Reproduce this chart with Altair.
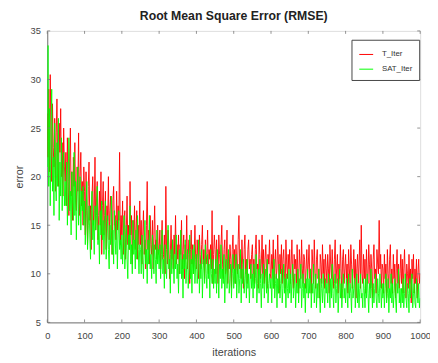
import altair as alt
import pandas as pd

# error values read every 2 iterations (0, 2, 4, ..., 1000)
t_iter = [
    26.5, 22.0, 29.0, 20.5, 30.5, 25.0, 19.5, 27.5, 23.0, 21.0, 26.0, 18.5, 24.5, 28.0, 21.5, 19.0, 25.5, 22.5, 27.0, 20.0, 23.5, 18.0, 25.0, 21.0, 19.5,
    22.5, 17.0, 24.0, 19.5, 16.0, 21.5, 25.0, 18.0, 20.5, 15.5, 22.0, 19.0, 23.5, 17.5, 16.5, 21.0, 18.5, 24.5, 16.0, 20.0, 22.5, 17.0, 19.5, 15.0, 21.0,
    18.5, 14.0, 20.5, 16.5, 13.0, 19.0, 21.5, 15.5, 17.0, 12.5, 18.0, 20.0, 15.0, 16.5, 22.0, 14.5, 17.5, 19.5, 13.5, 16.0, 18.5, 15.0, 20.5, 12.0, 17.0,
    19.5, 14.0, 16.0, 18.5, 12.5, 17.0, 15.5, 20.0, 13.5, 16.5, 18.0, 14.5, 12.0, 17.5, 19.0, 15.0, 16.0, 13.5, 18.5, 14.5, 17.0, 15.5, 22.5, 13.0, 16.0,
    14.0, 17.5, 12.0, 15.5, 16.5, 11.5, 14.5, 18.0, 13.0, 15.0, 12.5, 19.5, 14.0, 16.0, 11.0, 15.5, 13.5, 17.0, 12.5, 14.5, 16.5, 11.5, 15.0, 13.0, 17.5,
    13.0, 15.5, 11.0, 14.0, 16.5, 12.0, 13.5, 10.5, 15.0, 19.5, 12.5, 14.5, 11.0, 16.0, 13.0, 12.0, 15.5, 10.5, 14.0, 17.0, 12.5, 13.5, 11.5, 15.0, 12.0,
    12.5, 14.5, 10.5, 13.0, 15.5, 11.5, 12.0, 14.0, 10.0, 19.0, 12.5, 11.0, 14.5, 13.0, 9.5, 12.0, 15.0, 11.5, 13.5, 10.5, 14.0, 12.0, 16.0, 11.0, 13.0,
    11.5, 14.0, 10.0, 13.0, 12.0, 15.5, 10.5, 12.5, 14.0, 9.5, 13.0, 11.5, 16.0, 10.5, 12.0, 13.5, 9.0, 12.5, 14.5, 11.0, 13.0, 10.0, 12.0, 15.0, 11.5,
    10.5, 13.5, 11.5, 9.5, 14.0, 12.0, 10.5, 13.0, 15.0, 11.0, 12.5, 9.5, 13.5, 11.0, 12.0, 14.5, 10.0, 12.5, 11.5, 13.0, 10.5, 16.5, 9.0, 12.0, 14.0,
    12.5, 10.0, 13.5, 11.0, 9.0, 14.0, 12.0, 10.5, 13.0, 15.0, 11.0, 9.5, 12.5, 13.5, 10.0, 11.5, 14.5, 9.0, 12.0, 10.5, 13.0, 11.5, 8.5, 12.5, 14.0,
    10.5, 12.5, 9.0, 13.0, 11.0, 10.0, 13.5, 16.0, 10.5, 12.0, 9.5, 13.5, 11.0, 8.5, 12.5, 14.0, 10.0, 11.5, 9.0, 12.5, 13.5, 10.5, 11.5, 9.5, 12.0,
    13.0, 10.0, 11.5, 9.0, 12.5, 14.0, 10.5, 11.0, 8.5, 13.5, 12.0, 9.5, 11.0, 14.0, 10.0, 12.5, 9.0, 11.5, 13.0, 10.5, 8.5, 12.0, 11.0, 13.5, 10.0,
    9.5, 12.0, 10.5, 13.5, 8.5, 11.0, 12.5, 9.5, 10.5, 14.0, 11.0, 8.0, 12.0, 10.0, 13.0, 9.0, 11.5, 12.5, 10.0, 8.5, 13.5, 11.0, 9.5, 12.0, 10.5,
    12.5, 9.0, 11.0, 13.5, 10.0, 8.5, 12.0, 10.5, 11.5, 9.0, 13.0, 10.0, 8.0, 12.5, 11.0, 9.5, 13.5, 10.5, 9.0, 12.0, 11.5, 8.5, 10.5, 12.5, 9.5,
    11.0, 13.0, 9.5, 10.5, 8.0, 12.5, 11.0, 9.0, 13.5, 10.0, 8.5, 11.5, 12.5, 9.5, 10.5, 7.5, 12.0, 11.0, 9.0, 13.0, 10.0, 11.5, 8.5, 12.0, 10.5,
    9.0, 12.0, 10.5, 8.0, 13.0, 11.0, 9.5, 12.5, 10.0, 8.5, 11.5, 13.5, 9.0, 10.5, 12.0, 8.0, 11.0, 9.5, 13.0, 10.5, 7.5, 11.5, 12.5, 9.0, 10.5,
    12.0, 9.5, 11.0, 8.0, 12.5, 10.5, 9.0, 13.0, 11.0, 8.5, 10.0, 12.5, 9.5, 11.5, 7.5, 10.5, 12.0, 9.0, 11.0, 13.5, 8.5, 15.0, 10.0, 9.0, 12.0,
    9.5, 11.5, 8.0, 12.5, 10.0, 9.0, 13.0, 11.0, 8.5, 12.0, 10.5, 7.5, 11.5, 13.0, 9.5, 10.5, 8.0, 12.5, 11.0, 10.0, 15.5, 10.5, 12.0, 8.5, 11.0,
    10.5, 8.0, 12.0, 9.5, 11.0, 7.5, 12.5, 10.0, 8.5, 11.5, 13.0, 9.0, 10.5, 8.0, 12.0, 9.5, 11.0, 7.5, 10.5, 12.5, 9.0, 11.0, 8.5, 10.0, 12.0,
    9.0, 11.5, 8.0, 10.5, 12.5, 9.5, 7.5, 11.0, 10.0, 8.5, 12.0, 9.0, 10.5, 7.0, 11.5, 9.5, 12.0, 8.0, 10.5, 9.0, 11.5, 7.5, 10.0, 11.5, 9.0,
    10.0,
]

sat_iter = [
    21.0, 33.5, 19.0, 27.0, 17.0, 24.5, 29.0, 18.5, 22.0, 16.0, 25.5, 20.0, 17.5, 23.5, 19.0, 26.0, 15.5, 21.5, 18.0, 24.0, 16.5, 20.5, 22.5, 17.0, 19.5,
    17.0, 21.5, 15.0, 19.0, 24.0, 16.5, 18.5, 14.0, 20.5, 17.5, 15.5, 22.5, 16.0, 19.5, 13.5, 18.0, 21.0, 15.0, 17.5, 20.0, 14.5, 18.5, 16.5, 19.0, 15.0,
    17.5, 13.0, 16.0, 19.5, 12.5, 15.0, 17.0, 14.0, 11.5, 16.5, 18.5, 13.5, 15.5, 12.0, 17.0, 14.5, 16.0, 19.0, 13.0, 15.0, 11.0, 16.5, 14.0, 17.5, 13.5,
    15.5, 12.0, 14.5, 17.5, 11.5, 13.5, 16.0, 12.5, 10.5, 15.0, 13.0, 18.0, 12.0, 14.5, 11.0, 16.5, 13.5, 12.0, 15.5, 10.5, 14.0, 16.5, 12.5, 13.5, 11.5,
    14.0, 11.0, 13.5, 16.0, 10.5, 12.5, 15.0, 11.5, 9.5, 14.0, 12.5, 17.0, 11.0, 13.0, 10.0, 15.5, 12.0, 13.5, 10.5, 14.5, 11.5, 16.0, 12.5, 10.0, 13.0,
    12.5, 10.0, 14.0, 11.5, 9.5, 13.0, 15.5, 11.0, 12.5, 9.0, 13.5, 11.0, 16.0, 10.5, 12.0, 9.5, 14.0, 12.5, 10.0, 13.0, 11.5, 9.0, 14.5, 11.0, 12.5,
    10.5, 13.0, 9.5, 12.0, 14.5, 10.0, 11.5, 8.5, 13.0, 11.0, 9.5, 12.5, 15.0, 10.5, 11.5, 8.0, 12.5, 10.0, 13.5, 11.0, 9.0, 12.0, 10.5, 14.0, 9.5,
    11.0, 8.0, 12.5, 10.0, 14.5, 9.5, 11.5, 7.5, 12.0, 10.5, 13.5, 9.0, 11.0, 12.5, 8.5, 10.5, 14.0, 9.5, 11.5, 8.0, 12.5, 10.0, 13.0, 9.0, 11.0,
    12.0, 9.0, 10.5, 13.5, 8.0, 11.0, 9.5, 12.5, 7.5, 10.5, 11.5, 9.0, 13.0, 10.0, 8.5, 12.0, 9.5, 11.0, 7.5, 12.5, 10.0, 9.0, 11.5, 8.5, 10.5,
    9.0, 11.5, 8.0, 12.5, 10.0, 7.5, 11.0, 9.5, 13.0, 8.5, 10.5, 9.0, 12.0, 7.0, 10.0, 11.5, 8.5, 10.5, 12.5, 8.0, 9.5, 11.0, 7.5, 10.0, 12.0,
    8.5, 10.5, 9.0, 12.0, 7.5, 10.0, 11.0, 8.0, 9.5, 12.5, 7.0, 10.5, 9.0, 11.5, 8.0, 9.5, 10.5, 7.5, 11.5, 8.5, 10.0, 7.0, 9.5, 11.0, 8.5,
    10.0, 7.5, 11.0, 8.5, 9.5, 12.0, 7.0, 9.0, 10.5, 8.0, 11.5, 9.0, 6.5, 10.0, 8.5, 11.0, 7.5, 9.5, 10.5, 8.0, 11.5, 7.0, 9.0, 10.0, 8.5,
    9.5, 7.0, 10.5, 8.5, 11.5, 7.5, 9.0, 10.0, 6.5, 9.5, 8.0, 11.0, 7.5, 9.0, 10.5, 7.0, 8.5, 11.0, 8.0, 9.5, 6.5, 10.0, 8.5, 7.5, 10.5,
    8.0, 10.0, 7.0, 9.5, 11.0, 7.5, 8.5, 10.0, 6.5, 9.0, 8.0, 10.5, 7.0, 9.5, 8.5, 11.0, 6.5, 8.5, 10.0, 7.5, 9.0, 6.0, 9.5, 8.0, 10.5,
    7.5, 9.5, 8.0, 10.5, 6.5, 9.0, 8.0, 11.0, 7.0, 8.5, 10.0, 6.5, 9.0, 7.5, 10.5, 8.0, 6.0, 9.5, 8.5, 7.0, 10.0, 8.0, 6.5, 9.5, 8.0,
    9.0, 7.0, 10.0, 8.5, 6.5, 9.5, 7.5, 11.0, 8.0, 6.5, 9.0, 10.0, 7.0, 8.5, 9.5, 6.0, 8.0, 10.5, 7.5, 9.0, 6.5, 8.5, 10.0, 7.5, 8.5,
    7.0, 9.5, 8.0, 6.5, 10.0, 7.5, 9.0, 8.0, 6.0, 10.5, 7.5, 8.5, 9.5, 6.5, 8.0, 10.0, 7.0, 9.0, 6.5, 8.5, 10.0, 7.5, 8.0, 6.5, 9.5,
    8.5, 6.5, 9.5, 7.5, 10.0, 8.0, 6.0, 9.0, 7.5, 10.5, 8.5, 6.5, 9.0, 7.0, 8.5, 10.0, 7.5, 6.5, 9.5, 8.0, 7.0, 10.0, 8.5, 6.5, 9.0,
    7.5, 9.0, 6.5, 8.5, 10.0, 7.0, 8.0, 9.5, 6.0, 8.5, 7.5, 10.0, 7.0, 9.0, 6.5, 8.0, 9.5, 7.5, 6.0, 9.0, 8.0, 10.5, 7.0, 8.5, 6.5,
    8.5, 7.0, 9.5, 6.5, 8.0, 10.0, 7.5, 6.5, 9.0, 8.0, 6.0, 9.5, 7.5, 8.5, 10.0, 6.5, 8.0, 9.0, 7.0, 6.5, 9.5, 8.0, 7.0, 9.0, 6.5,
    7.5,
]

series_names = ["T_Iter", "SAT_Iter"]
series_colors = ["#ff0000", "#00ff00"]
x_ticks = list(range(0, 1001, 100))
y_ticks = list(range(5, 36, 5))

df = pd.concat([
    pd.DataFrame({"it": list(range(0, 2 * len(t_iter), 2)), "err": t_iter,
                  "series": series_names[0]}),
    pd.DataFrame({"it": list(range(0, 2 * len(sat_iter), 2)), "err": sat_iter,
                  "series": series_names[1]}),
])
xt_df = pd.DataFrame({"it": x_ticks})
yt_df = pd.DataFrame({"err": y_ticks})

font = "Liberation Sans"
W, H = 380, 297
TICK = 3
axis_grey = "#777"
text_grey = "#444"

x_axis = alt.Axis(values=x_ticks, format="d", title="iterations", grid=False,
                  ticks=False, labelFlush=False, labelOverlap=False,
                  labelFontSize=9.5, titleFontSize=11, titleFontWeight="normal",
                  labelPadding=8, titlePadding=7, labelColor=text_grey,
                  titleColor=text_grey, domainColor=axis_grey,
                  labelFont=font, titleFont=font)
y_axis = alt.Axis(values=y_ticks, title="error", grid=False,
                  ticks=False, labelFlush=False, labelOverlap=False,
                  labelFontSize=9.5, titleFontSize=11, titleFontWeight="normal",
                  labelPadding=7, titlePadding=6, labelColor=text_grey,
                  titleColor=text_grey, domainColor=axis_grey,
                  labelFont=font, titleFont=font)
x_scale = alt.Scale(domain=[0, 1000], nice=False)
y_scale = alt.Scale(domain=[5, 35], nice=False)

x_enc = alt.X("it:Q", scale=x_scale, axis=x_axis)
y_enc = alt.Y("err:Q", scale=y_scale, axis=y_axis)
color_enc = alt.Color("series:N",
                      scale=alt.Scale(domain=series_names, range=series_colors),
                      legend=alt.Legend(title=None, orient="none", legendX=310,
                                        legendY=9, symbolType="stroke",
                                        symbolSize=200, symbolStrokeWidth=1,
                                        labelFontSize=8, labelFont=font,
                                        labelColor="#333", strokeColor="#444",
                                        fillColor="white", padding=7,
                                        rowPadding=3, labelOffset=8))

base = alt.Chart(df)
red = base.transform_filter(alt.datum.series == series_names[0]).mark_line(
    strokeWidth=0.9, clip=True).encode(x=x_enc, y=y_enc, color=color_enc)
green = base.transform_filter(alt.datum.series == series_names[1]).mark_line(
    strokeWidth=0.9, clip=True).encode(x=x_enc, y=y_enc, color=color_enc)

# inward-pointing box ticks (MATLAB style); same axis definitions so merged axes match
xt = alt.Chart(xt_df)
yt = alt.Chart(yt_df)
tick_bottom = xt.mark_rule(color=axis_grey, strokeWidth=0.8).encode(
    x=x_enc, y=alt.value(H), y2=alt.value(H - TICK))
tick_top = xt.mark_rule(color=axis_grey, strokeWidth=0.8).encode(
    x=x_enc, y=alt.value(0), y2=alt.value(TICK))
tick_left = yt.mark_rule(color=axis_grey, strokeWidth=0.8).encode(
    y=y_enc, x=alt.value(0), x2=alt.value(TICK))
tick_right = yt.mark_rule(color=axis_grey, strokeWidth=0.8).encode(
    y=y_enc, x=alt.value(W), x2=alt.value(W - TICK))

chart = alt.layer(red, green, tick_bottom, tick_top, tick_left, tick_right).properties(
    width=W, height=H,
    title=alt.TitleParams("Root Mean Square Error (RMSE)", fontSize=12.5,
                          font=font, fontWeight="bold", color="#222", offset=4),
    autosize=alt.AutoSizeParams(type="none"),
    padding={"left": 40, "top": 20, "right": 10, "bottom": 36},
).configure_view(stroke=axis_grey, strokeWidth=1).configure(background="white")

chart.save("out.html", embed_options={"renderer": "svg", "actions": False})
